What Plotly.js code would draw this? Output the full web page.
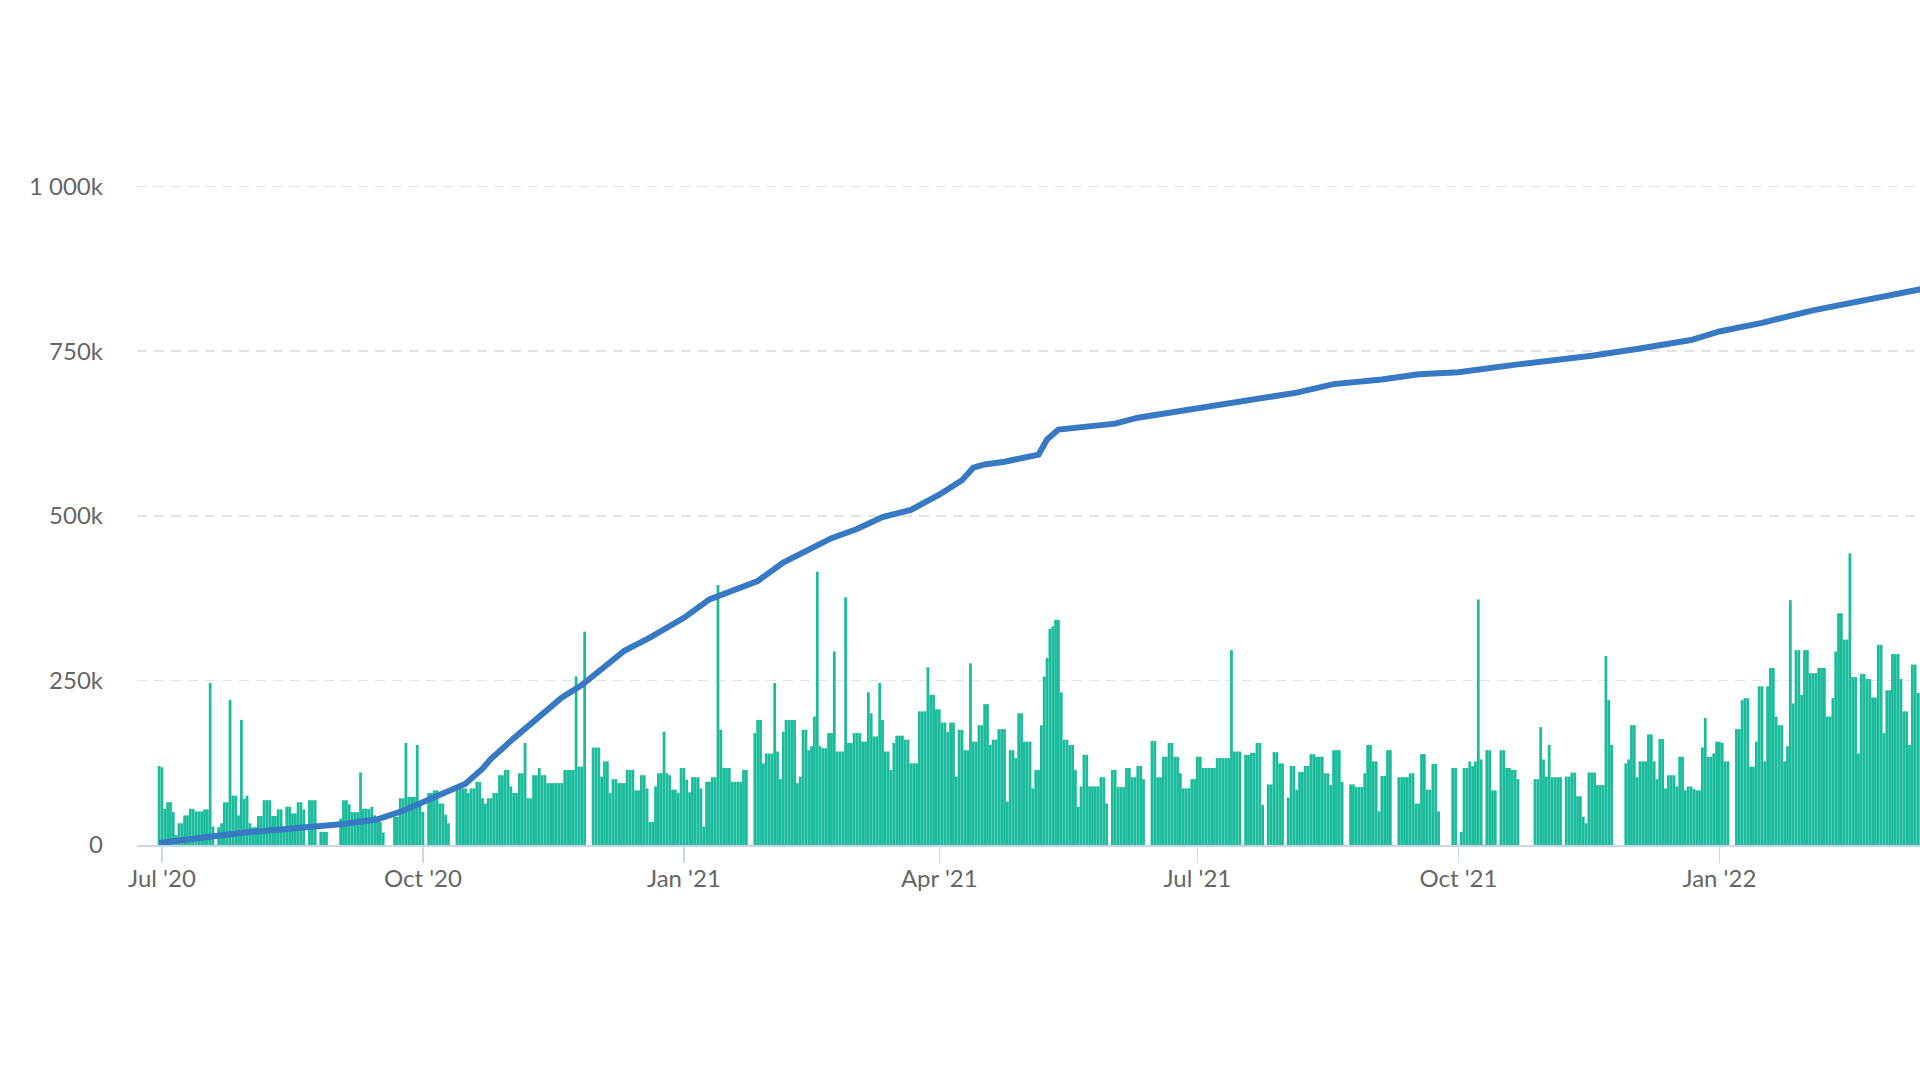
<!DOCTYPE html>
<html>
<head>
<meta charset="utf-8">
<script src="https://cdn.plot.ly/plotly-3.0.1.min.js"></script>
<style>
html,body{margin:0;padding:0;background:#ffffff;}
#chart{width:1920px;height:1080px;}
</style>
</head>
<body>
<div id="chart"></div>
<script>
// Daily values (thousands), one array per month
const v2020_06 = [120]; // starts on the 30th
const v2020_07 = [118,55,65,65,50,15,33,33,45,45, 55,55,51,51,51,54,54,246,28,0, 27,33,65,65,220,75,75,45,190,70, 75];
const v2020_08 = [33,27,27,44,44,68,68,68,44,44, 54,54,20,58,58,48,48,65,65,54, 0,68,68,68,0,20,20,20,0,0, 0];
const v2020_09 = [0,40,68,68,62,50,50,50,110,55, 55,55,58,45,39,35,19,0,0,0, 43,43,71,71,155,73,73,73,152,60];
const v2020_10 = [50,0,79,79,83,83,63,63,46,33, 0,0,86,86,86,86,79,86,86,96, 96,71,63,71,71,79,79,106,106,114, 114];
const v2020_11 = [89,79,79,109,109,155,71,71,106,106, 117,106,106,94,94,94,94,94,94,114, 114,114,114,256,119,119,324,0,0,148];
const v2020_12 = [148,148,104,127,127,79,100,100,94,94, 94,114,114,114,83,83,106,106,86,35, 35,89,109,109,172,109,106,84,84,79, 117];
const v2021_01 = [117,99,80,103,103,103,86,28,96,96, 103,103,395,175,117,117,117,96,96,96, 96,114,114,0,0,170,190,190,124,139, 139];
const v2021_02 = [139,246,142,100,172,190,190,190,190,94, 104,175,175,144,150,195,415,150,147,147, 170,170,294,142,142,142,376,155];
const v2021_03 = [155,170,170,170,157,157,232,200,165,165, 246,190,142,142,114,155,166,166,166,160, 160,124,124,124,203,203,203,270,228,228, 206];
const v2021_04 = [206,186,186,172,186,186,104,175,175,144, 144,276,157,157,182,182,214,214,152,160, 160,176,176,176,66,144,144,132,200,200];
const v2021_05 = [157,157,157,86,114,114,182,256,284,328, 332,342,342,232,160,160,152,152,114,58, 89,137,137,89,89,89,89,103,103,63, 0];
const v2021_06 = [114,114,88,88,88,117,117,103,103,120, 120,100,0,0,158,158,103,103,134,134, 155,155,134,134,109,86,86,86,100,100];
const v2021_07 = [134,134,117,117,117,117,117,132,132,132, 132,132,296,142,142,142,0,137,137,140, 140,155,155,61,0,92,92,141,141,124, 124];
const v2021_08 = [0,72,120,120,84,111,111,120,120,138, 138,134,134,134,109,109,91,144,144,144, 96,0,0,92,92,88,88,88,109,152, 152];
const v2021_09 = [127,127,51,105,105,144,144,0,0,103, 103,103,103,109,109,63,63,138,138,84, 84,123,123,51,0,0,0,0,117,117];
const v2021_10 = [0,20,117,117,127,120,127,373,130,0, 144,144,83,83,0,144,144,117,117,114, 114,100,0,0,0,0,0,100,100,179, 130];
const v2021_11 = [104,152,103,103,103,103,0,104,104,110, 110,74,74,43,33,110,110,110,91,91, 91,287,220,152,0,0,0,0,124,130];
const v2021_12 = [182,182,103,127,127,127,168,168,127,100, 161,161,86,106,106,106,89,134,134,83, 89,89,85,83,83,148,193,134,134,139, 157];
const v2022_01 = [157,155,127,127,0,0,176,176,220,223, 223,119,119,157,241,241,127,241,269,269, 195,182,182,127,150,372,215,296,296,228, 296];
const v2022_02 = [296,261,261,261,269,269,269,195,195,223, 294,352,352,312,312,443,255,255,139,260, 260,252,252,224,224,304,304,170];
const v2022_03 = [235,235,290,290,290,252,203,203,152,274,274,231,231,231];

const monthKeys  = ['2020-06','2020-07','2020-08','2020-09','2020-10','2020-11','2020-12','2021-01','2021-02','2021-03','2021-04','2021-05','2021-06','2021-07','2021-08','2021-09','2021-10','2021-11','2021-12','2022-01','2022-02','2022-03'];
const monthFirst = [30,1,1,1,1,1,1,1,1,1,1,1,1,1,1,1,1,1,1,1,1,1];
const monthVals  = [v2020_06,v2020_07,v2020_08,v2020_09,v2020_10,v2020_11,v2020_12,v2021_01,v2021_02,v2021_03,v2021_04,v2021_05,v2021_06,v2021_07,v2021_08,v2021_09,v2021_10,v2021_11,v2021_12,v2022_01,v2022_02,v2022_03];

// Cumulative line (thousands)
const lineDates = ['2020-06-30','2020-07-30','2020-09-03','2020-09-15','2020-09-24','2020-10-01','2020-10-07','2020-10-16','2020-10-22','2020-10-25','2020-11-02','2020-11-11','2020-11-19','2020-11-26','2020-12-02','2020-12-11','2020-12-20','2021-01-01','2021-01-10','2021-01-21','2021-01-27','2021-02-05','2021-02-14','2021-02-22','2021-03-03','2021-03-12','2021-03-22','2021-04-01','2021-04-09','2021-04-13','2021-04-17','2021-04-24','2021-05-06','2021-05-09','2021-05-13','2021-05-20','2021-06-02','2021-06-10','2021-07-01','2021-07-19','2021-08-05','2021-08-18','2021-09-04','2021-09-17','2021-10-01','2021-10-22','2021-11-17','2021-12-04','2021-12-22','2022-01-01','2022-01-16','2022-02-03','2022-02-20','2022-03-14'];
const lineK = [3,19,32,39,52,65,78,93,116,131,162,196,224,243,265,295,315,345,373,390,401,429,448,466,480,498,509,532,554,573,578,582,593,616,631,634,640,649,664,677,687,700,707,715,718,730,743,754,767,780,793,812,827,845];

const xTickVals = ['2020-07-01','2020-10-01','2021-01-01','2021-04-01','2021-07-01','2021-10-01','2022-01-01'];
const xTickText = ["Jul '20","Oct '20","Jan '21","Apr '21","Jul '21","Oct '21","Jan '22"];
const yTickVals = [0,250,500,750,1000];
const yTickText = ['0','250k','500k','750k','1 000k'];

const barX = [], barY = [];
monthKeys.forEach(function(key, m){
  monthVals[m].forEach(function(v, i){
    const d = monthFirst[m] + i;
    barX.push(key + '-' + (d < 10 ? '0' + d : '' + d));
    barY.push(v);
  });
});

const traces = [
  {type:'bar', x:barX, y:barY, marker:{color:'#1abc9c', line:{width:0}}, hoverinfo:'skip'},
  {type:'scatter', mode:'lines', x:lineDates, y:lineK, line:{color:'#3779c2', width:6}, hoverinfo:'skip'}
];

const layout = {
  width:1920, height:1080,
  margin:{l:137, r:0, t:180, b:235, pad:0},
  paper_bgcolor:'#ffffff', plot_bgcolor:'#ffffff',
  showlegend:false, bargap:0.02, hovermode:false,
  font:{family:'Lato, "Open Sans", sans-serif', size:24, color:'#666666'},
  xaxis:{
    type:'date', range:['2020-06-22 05:00','2022-03-12 17:00'],
    tickmode:'array', tickvals:xTickVals, ticktext:xTickText,
    ticks:'outside', ticklen:16, tickwidth:1.5, tickcolor:'#ccd6eb',
    showline:true, linecolor:'#ccd6eb', linewidth:2,
    showgrid:false, zeroline:false, ticklabelstandoff:-5,
    tickfont:{family:'Lato, sans-serif', size:24, color:'#666666'}
  },
  yaxis:{
    range:[0,1010], tickmode:'array', tickvals:yTickVals, ticktext:yTickText,
    showgrid:true, gridcolor:'#e3e3e3', gridwidth:1.5, griddash:'10px,7px',
    zeroline:false, showline:false, ticks:'', ticklabelstandoff:33,
    tickfont:{family:'Lato, sans-serif', size:24, color:'#666666'}
  }
};

Plotly.newPlot('chart', traces, layout, {staticPlot:true, displayModeBar:false});
</script>
</body>
</html>
